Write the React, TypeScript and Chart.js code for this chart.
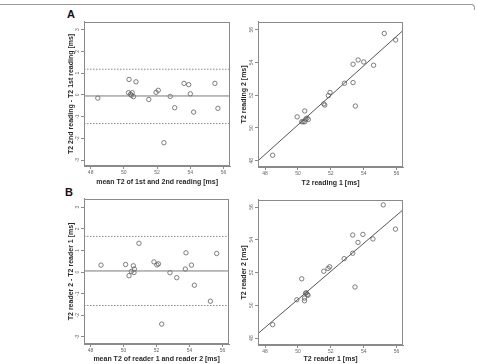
import React, { useEffect, useRef } from "react";
import { Chart, registerables } from "chart.js";

Chart.register(...registerables);

const FONT = "'Liberation Sans', Arial, Helvetica, sans-serif";

// ---- Panel A: repeated reading by one reader ----
const meanReadingA = [48.43, 50.31, 50.73, 50.28, 50.40, 50.50, 50.58, 50.45, 51.50, 51.94, 52.07, 52.41, 52.79, 53.06, 53.62, 53.90, 54.00, 54.20, 55.48, 55.66];
const diffReadingA = [-0.15, 0.71, 0.60, 0.10, 0.03, 0.10, -0.08, -0.02, -0.21, 0.12, 0.21, -2.20, -0.07, -0.59, 0.53, 0.47, 0.05, -0.79, 0.53, -0.62];
const limitsA = [-0.05, 1.18, -1.32]; // mean difference, upper and lower limit of agreement

const reading1 = [48.46, 49.95, 50.41, 50.23, 50.31, 50.41, 50.47, 50.55, 50.63, 51.57, 51.63, 51.85, 51.95, 52.83, 53.35, 53.35, 53.49, 53.66, 54.00, 54.60, 55.25, 55.94];
const reading2 = [48.34, 50.68, 51.04, 50.38, 50.38, 50.38, 50.54, 50.60, 50.52, 51.47, 51.40, 51.98, 52.17, 52.73, 53.89, 52.77, 51.34, 54.15, 54.03, 53.83, 55.77, 55.37];
const fitLineAX = [47.57, 56.4];
const fitLineAY = [48.0, 55.96];

// ---- Panel B: two readers ----
const meanReaderB = [48.63, 50.12, 50.33, 50.47, 50.59, 50.65, 50.63, 50.93, 51.84, 52.02, 52.11, 52.31, 52.81, 53.22, 53.74, 53.78, 54.11, 54.29, 55.26, 55.64];
const diffReaderB = [0.32, 0.35, -0.17, 0.03, 0.29, 0.14, -0.02, 1.33, 0.47, 0.33, 0.38, -2.41, -0.03, -0.26, 0.14, 0.89, 0.32, -0.61, -1.35, 0.86];
const limitsB = [0.05, 1.65, -1.55];

const reader1 = [48.46, 49.93, 50.23, 50.40, 50.40, 50.46, 50.51, 50.57, 50.61, 51.57, 51.83, 51.93, 52.81, 53.33, 53.33, 53.47, 53.65, 53.95, 54.56, 55.19, 55.93];
const reader2 = [48.82, 50.34, 51.62, 50.44, 50.28, 50.74, 50.76, 50.66, 50.62, 52.08, 52.25, 52.35, 52.85, 53.18, 54.29, 51.12, 53.84, 54.33, 54.05, 56.13, 54.65];
const fitLineBX = [47.57, 56.4];
const fitLineBY = [48.28, 55.84];

// ---- tick values and axis ranges ----
const t2Ticks = [48, 50, 52, 54, 56];
const diffTicks = [-3, -2, -1, 0, 1, 2, 3];
const xRange = [47.6, 56.4];
const diffRangeA = [-3.27, 3.36];
const diffRangeB = [-3.33, 3.39];
const t2RangeA = [47.62, 56.48];
const t2RangeB = [47.58, 56.44];

const AXIS_GREY = "#8a8a8a";
const POINT_GREY = "#5e5e5e";

const framePlugin = {
  id: "frame",
  afterDraw(chart: any) {
    const { ctx, chartArea } = chart;
    const { left, top, right, bottom } = chartArea;
    ctx.save();
    ctx.strokeStyle = AXIS_GREY;
    ctx.lineWidth = 1;
    ctx.strokeRect(Math.round(left) + 0.5, Math.round(top) + 0.5, Math.round(right - left) - 1, Math.round(bottom - top) - 1);
    ctx.restore();
  },
};

const toPoints = (xs: number[], ys: number[]) => xs.map((x, i) => ({ x, y: ys[i] }));

function pointSet(xs: number[], ys: number[]) {
  return {
    data: toPoints(xs, ys),
    pointRadius: 2.2,
    pointBorderWidth: 0.8,
    pointBorderColor: POINT_GREY,
    pointBackgroundColor: "rgba(0,0,0,0)",
    showLine: false,
  };
}

function lineSet(xs: number[], ys: number[], color: string, dash: number[] = []) {
  return {
    data: toPoints(xs, ys),
    showLine: true,
    borderColor: color,
    borderWidth: 1,
    borderDash: dash,
    pointRadius: 0,
    fill: false,
  };
}

function limitLines(limits: number[]) {
  const [mean, upper, lower] = limits;
  return [
    lineSet(xRange, [mean, mean], "#7a7a7a"),
    lineSet(xRange, [upper, upper], "#8a8a8a", [1.5, 1.5]),
    lineSet(xRange, [lower, lower], "#8a8a8a", [1.5, 1.5]),
  ];
}

type PanelProps = {
  areaLeft: number;
  areaTop: number;
  areaW: number;
  areaH: number;
  yAxisW: number;
  xAxisH: number;
  yTitlePad: number;
  xTitlePad: number;
  xMin: number;
  xMax: number;
  yMin: number;
  yMax: number;
  yTicks: number[];
  xTitle: string;
  yTitle: string;
  datasets: any[];
};

function Panel(p: PanelProps) {
  const ref = useRef<HTMLCanvasElement>(null);
  const padTop = 2;
  const padRight = 2;
  const width = p.yAxisW + p.areaW + padRight;
  const height = padTop + p.areaH + p.xAxisH;

  useEffect(() => {
    if (!ref.current) return;
    const tickFont = { family: FONT, size: 5 };
    const titleFont = { family: FONT, size: 7, weight: "bold" as const };
    const chart = new Chart(ref.current, {
      type: "scatter",
      data: { datasets: p.datasets },
      options: {
        animation: false,
        responsive: false,
        maintainAspectRatio: false,
        layout: { padding: { top: padTop, right: padRight, left: 0, bottom: 0 } },
        plugins: { legend: { display: false }, tooltip: { enabled: false } },
        scales: {
          x: {
            type: "linear",
            min: p.xMin,
            max: p.xMax,
            afterBuildTicks: (s: any) => {
              s.ticks = t2Ticks.map((v) => ({ value: v }));
            },
            afterFit: (s: any) => {
              s.height = p.xAxisH;
            },
            grid: { drawOnChartArea: false, drawTicks: true, tickLength: 3, color: AXIS_GREY, lineWidth: 1 },
            border: { display: true, color: AXIS_GREY, width: 1 },
            ticks: { font: tickFont, color: "#666", padding: 1, minRotation: 0, maxRotation: 0, autoSkip: false },
            title: { display: true, text: p.xTitle, font: titleFont, color: "#2a2a2a", padding: { top: 0, bottom: p.xTitlePad } },
          },
          y: {
            type: "linear",
            min: p.yMin,
            max: p.yMax,
            afterBuildTicks: (s: any) => {
              s.ticks = p.yTicks.map((v) => ({ value: v }));
            },
            afterFit: (s: any) => {
              s.width = p.yAxisW;
            },
            grid: { drawOnChartArea: false, drawTicks: true, tickLength: 3, color: AXIS_GREY, lineWidth: 1 },
            border: { display: true, color: AXIS_GREY, width: 1 },
            ticks: { font: tickFont, color: "#666", padding: 1, minRotation: 90, maxRotation: 90, crossAlign: "center", autoSkip: false },
            title: { display: true, text: p.yTitle, font: titleFont, color: "#2a2a2a", padding: { top: p.yTitlePad, bottom: 0 } },
          },
        },
      },
      plugins: [framePlugin],
    } as any);
    return () => chart.destroy();
  }, []);

  return (
    <canvas
      ref={ref}
      width={width}
      height={height}
      style={{ position: "absolute", left: p.areaLeft - p.yAxisW, top: p.areaTop - padTop, width, height }}
    />
  );
}

const letterStyle: React.CSSProperties = {
  position: "absolute",
  fontFamily: FONT,
  fontWeight: "bold",
  fontSize: 11,
  lineHeight: "11px",
  color: "#111",
};

export default function App() {
  useEffect(() => {
    document.body.style.overflow = "hidden";
  }, []);

  return (
    <div style={{ position: "absolute", left: 0, top: 0, width: 477, height: 364, background: "#fff", overflow: "hidden" }}>
      <div
        style={{
          position: "absolute",
          left: -10,
          top: 4,
          width: 484,
          height: 5,
          borderTop: "1px solid #9a9a9a",
          borderRight: "1px solid #9a9a9a",
          borderTopRightRadius: 4,
        }}
      />
      <div style={{ ...letterStyle, left: 67, top: 9 }}>A</div>
      <div style={{ ...letterStyle, left: 65, top: 187 }}>B</div>

      <Panel
        areaLeft={84} areaTop={19} areaW={149} areaH={147}
        yAxisW={20} xAxisH={21} yTitlePad={2.8} xTitlePad={1}
        xMin={xRange[0]} xMax={xRange[1]} yMin={diffRangeA[0]} yMax={diffRangeA[1]}
        yTicks={diffTicks}
        xTitle="mean T2 of 1st and 2nd reading [ms]"
        yTitle="T2 2nd reading - T2 1st reading [ms]"
        datasets={[...limitLines(limitsA), pointSet(meanReadingA, diffReadingA)]}
      />
      <Panel
        areaLeft={258} areaTop={19} areaW={148} areaH={148}
        yAxisW={20} xAxisH={21} yTitlePad={1.8} xTitlePad={1}
        xMin={fitLineAX[0]} xMax={fitLineAX[1]} yMin={t2RangeA[0]} yMax={t2RangeA[1]}
        yTicks={t2Ticks}
        xTitle="T2 reading 1 [ms]"
        yTitle="T2 reading 2 [ms]"
        datasets={[lineSet(fitLineAX, fitLineAY, "#555"), pointSet(reading1, reading2)]}
      />
      <Panel
        areaLeft={84} areaTop={196} areaW={148} areaH={148}
        yAxisW={20} xAxisH={20} yTitlePad={2.8} xTitlePad={0.5}
        xMin={xRange[0]} xMax={xRange[1]} yMin={diffRangeB[0]} yMax={diffRangeB[1]}
        yTicks={diffTicks}
        xTitle="mean T2 of reader 1 and reader 2 [ms]"
        yTitle="T2 reader 2 - T2 reader 1 [ms]"
        datasets={[...limitLines(limitsB), pointSet(meanReaderB, diffReaderB)]}
      />
      <Panel
        areaLeft={258} areaTop={197} areaW={148} areaH={148}
        yAxisW={20} xAxisH={19} yTitlePad={1.8} xTitlePad={0.5}
        xMin={fitLineBX[0]} xMax={fitLineBX[1]} yMin={t2RangeB[0]} yMax={t2RangeB[1]}
        yTicks={t2Ticks}
        xTitle="T2 reader 1 [ms]"
        yTitle="T2 reader 2 [ms]"
        datasets={[lineSet(fitLineBX, fitLineBY, "#555"), pointSet(reader1, reader2)]}
      />
    </div>
  );
}
